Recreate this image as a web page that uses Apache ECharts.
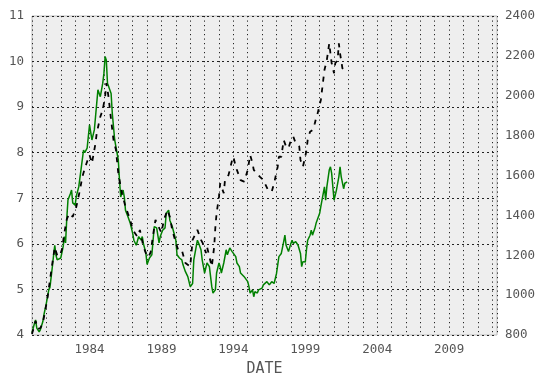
<!DOCTYPE html>
<html>
<head>
<meta charset="utf-8">
<script src="https://cdn.jsdelivr.net/npm/echarts@6/dist/echarts.min.js"></script>
<style>
html,body{margin:0;padding:0;background:#fff;}
#c{width:546px;height:388px;}
</style>
</head>
<body>
<div id="c"></div>
<script>
// Green series (left axis)
var greenDates = ["1980-01","1980-03","1980-04","1980-05","1980-07","1980-08","1980-10","1980-11","1981-01","1981-03","1981-04","1981-06","1981-07","1981-08","1981-09","1981-10","1982-01","1982-03","1982-04","1982-05","1982-06","1982-07","1982-09","1982-10","1982-11","1983-01","1983-02","1983-04","1983-06","1983-08","1983-09","1983-10","1983-11","1984-01","1984-03","1984-05","1984-06","1984-08","1984-10","1984-12","1985-01","1985-02","1985-03","1985-04","1985-05","1985-07","1985-08","1985-10","1986-01","1986-02","1986-03","1986-05","1986-06","1986-07","1986-09","1986-11","1987-01","1987-02","1987-04","1987-06","1987-08","1987-09","1987-10","1987-12","1988-01","1988-03","1988-05","1988-07","1988-09","1988-11","1988-12","1989-02","1989-04","1989-05","1989-07","1989-08","1989-10","1990-01","1990-02","1990-04","1990-06","1990-07","1990-09","1990-11","1991-01","1991-02","1991-03","1991-04","1991-06","1991-07","1991-08","1991-10","1991-11","1992-01","1992-03","1992-05","1992-07","1992-08","1992-10","1992-11","1993-01","1993-02","1993-03","1993-05","1993-07","1993-08","1993-10","1993-12","1994-01","1994-03","1994-04","1994-06","1994-07","1994-08","1994-10","1994-11","1995-01","1995-02","1995-03","1995-05","1995-06","1995-07","1995-09","1995-10","1996-01","1996-02","1996-05","1996-07","1996-09","1996-11","1997-01","1997-03","1997-04","1997-05","1997-07","1997-08","1997-09","1997-11","1998-01","1998-02","1998-03","1998-05","1998-06","1998-07","1998-09","1998-10","1998-11","1999-01","1999-02","1999-03","1999-05","1999-06","1999-07","1999-09","1999-10","2000-01","2000-02","2000-04","2000-05","2000-06","2000-07","2000-09","2000-10","2000-11","2001-01","2001-03","2001-05","2001-06","2001-07","2001-09","2001-10","2001-12"];
var greenVals = [4.05,4.25,4.33,4.15,4.07,4.12,4.29,4.45,4.70,4.99,5.05,5.50,5.75,5.97,5.75,5.65,5.69,5.94,6.16,6.02,6.55,6.96,7.10,7.18,6.90,6.85,7.05,7.25,7.65,8.06,8.00,8.02,8.10,8.61,8.28,8.50,8.79,9.38,9.23,9.52,9.74,10.11,10.03,9.52,9.45,9.30,8.86,8.28,7.84,7.40,7.03,7.18,7.03,6.74,6.60,6.45,6.23,6.08,5.97,6.16,6.08,6.16,6.00,5.80,5.55,5.69,5.76,6.38,6.35,6.02,6.16,6.30,6.35,6.67,6.74,6.52,6.38,6.08,5.76,5.69,5.65,5.54,5.39,5.28,5.06,5.03,5.13,5.65,5.94,6.08,6.02,5.87,5.65,5.36,5.58,5.50,5.06,4.92,4.99,5.36,5.58,5.50,5.36,5.58,5.87,5.76,5.91,5.83,5.87,5.72,5.58,5.50,5.36,5.39,5.28,5.31,5.17,5.06,4.92,4.99,4.84,4.95,4.92,4.99,5.03,5.10,5.17,5.10,5.17,5.13,5.35,5.72,5.76,5.79,6.05,6.19,5.97,5.83,6.01,6.08,6.01,6.05,6.01,5.97,5.79,5.50,5.61,5.60,5.87,6.08,6.19,6.30,6.19,6.34,6.45,6.67,6.82,7.11,7.25,6.96,7.25,7.62,7.69,7.55,6.96,7.18,7.47,7.69,7.47,7.21,7.33,7.36];

// Black dashed series (right axis)
var blackDates = ["1980-01","1980-03","1980-04","1980-06","1980-08","1980-10","1980-12","1981-02","1981-04","1981-06","1981-08","1981-10","1981-12","1982-02","1982-04","1982-06","1982-08","1982-11","1983-02","1983-05","1983-07","1983-10","1984-01","1984-03","1984-06","1984-07","1984-10","1984-12","1985-02","1985-03","1985-04","1985-05","1985-07","1985-09","1985-11","1986-01","1986-03","1986-04","1986-07","1986-09","1986-11","1987-01","1987-02","1987-05","1987-07","1987-10","1987-12","1988-02","1988-04","1988-06","1988-08","1989-01","1989-03","1989-06","1989-08","1989-10","1990-01","1990-03","1990-06","1990-09","1991-01","1991-03","1991-07","1991-10","1992-01","1992-02","1992-03","1992-07","1992-09","1992-10","1992-11","1993-01","1993-02","1993-05","1993-06","1993-09","1993-12","1994-01","1994-03","1994-07","1994-10","1995-01","1995-03","1995-05","1995-06","1995-11","1996-02","1996-06","1996-09","1996-11","1997-02","1997-03","1997-05","1997-07","1997-09","1997-11","1998-01","1998-03","1998-05","1998-06","1998-08","1998-09","1998-11","1999-01","1999-02","1999-03","1999-05","1999-07","1999-09","1999-10","1999-11","2000-02","2000-03","2000-04","2000-05","2000-07","2000-09","2000-10","2000-11","2001-01","2001-02","2001-04","2001-05","2001-06","2001-08","2001-09"];
var blackVals = [805,850,870,830,835,860,920,990,1076,1160,1240,1200,1195,1230,1312,1380,1410,1393,1444,1527,1594,1653,1703,1661,1762,1812,1895,1929,1995,2063,2029,1987,1878,1778,1730,1611,1544,1511,1444,1410,1377,1327,1327,1293,1327,1243,1210,1190,1215,1300,1377,1312,1377,1427,1393,1327,1262,1226,1226,1161,1143,1277,1327,1277,1243,1211,1243,1143,1243,1343,1410,1494,1561,1511,1577,1603,1678,1694,1644,1577,1569,1628,1703,1661,1628,1594,1577,1527,1519,1561,1644,1694,1694,1778,1745,1737,1778,1795,1762,1770,1745,1678,1644,1694,1728,1778,1820,1828,1862,1887,1904,1979,2029,2079,2129,2179,2263,2213,2163,2113,2163,2179,2263,2213,2138,2129];

var xLabelYears = [1984, 1989, 1994, 1999, 2004, 2009];
var leftTicks = [4, 5, 6, 7, 8, 9, 10, 11];
var rightTicks = [800, 1000, 1200, 1400, 1600, 1800, 2000, 2200, 2400];

function toYear(s) {
  var p = s.split('-');
  return parseInt(p[0], 10) + (parseInt(p[1], 10) - 1) / 12;
}
function pairs(dates, vals) {
  return dates.map(function (d, i) { return [toYear(d), vals[i]]; });
}

var FONT = 'DejaVu Sans Mono';
var chart = echarts.init(document.getElementById('c'), null, {renderer: 'canvas'});
chart.setOption({
  animation: false,
  backgroundColor: '#ffffff',
  grid: {
    left: 32, right: 49, top: 16, bottom: 53,
    show: true, backgroundColor: '#eeeeee', borderColor: '#bcbcbc', borderWidth: 1
  },
  xAxis: {
    type: 'value', min: 1980, max: 2012.33, interval: 1,
    name: 'DATE', nameLocation: 'middle', nameGap: 27,
    nameTextStyle: {fontFamily: FONT, fontSize: 15, color: '#555555'},
    axisLine: {show: false}, axisTick: {show: false},
    axisLabel: {
      fontFamily: FONT, fontSize: 12.5, color: '#555555', margin: 8,
      showMinLabel: false, showMaxLabel: false,
      formatter: function (v) { return xLabelYears.indexOf(Math.round(v)) >= 0 && Math.abs(v - Math.round(v)) < 1e-6 ? String(Math.round(v)) : ''; }
    },
    splitLine: {show: true, lineStyle: {color: '#222', width: 1, type: [1.2, 3.3]}}
  },
  yAxis: [{
    type: 'value', min: leftTicks[0], max: leftTicks[leftTicks.length - 1], interval: 1,
    position: 'left',
    axisLine: {show: false}, axisTick: {show: false},
    axisLabel: {fontFamily: FONT, fontSize: 12.5, color: '#555555', margin: 8,
      formatter: function (v) { return String(v); }},
    splitLine: {show: true, lineStyle: {color: '#222', width: 1, type: [2, 3]}}
  }, {
    type: 'value', min: rightTicks[0], max: rightTicks[rightTicks.length - 1], interval: 200,
    position: 'right',
    axisLine: {show: false}, axisTick: {show: false},
    axisLabel: {fontFamily: FONT, fontSize: 12.5, color: '#555555', margin: 8,
      formatter: function (v) { return String(v); }},
    splitLine: {show: false}
  }],
  series: [{
    type: 'line', yAxisIndex: 0, data: pairs(greenDates, greenVals),
    showSymbol: false, symbol: 'none',
    lineStyle: {color: '#008000', width: 1.5}
  }, {
    type: 'line', yAxisIndex: 1, data: pairs(blackDates, blackVals),
    showSymbol: false, symbol: 'none',
    lineStyle: {color: '#000000', width: 1.8, type: [5, 6]}
  }]
});
</script>
</body>
</html>
